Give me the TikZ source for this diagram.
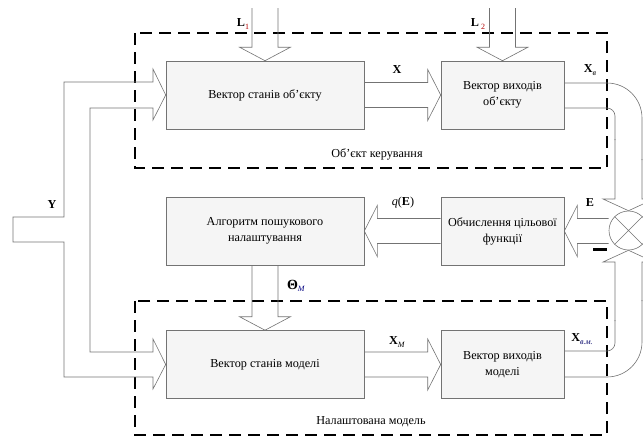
\documentclass[tikz,border=0pt]{standalone}
\usepackage{fontspec}
\setmainfont{Liberation Serif}
\usetikzlibrary{calc}
\tikzset{
  blk/.style={draw=black!55, fill=black!4, line width=0.6pt, align=center,
    font=\fontsize{12.2}{16}\selectfont, inner sep=0pt},
  wide/.style={minimum width=198pt, minimum height=68pt},
  narrow/.style={minimum width=123pt, minimum height=68pt},
  pipe/.style={draw=black!55, line width=0.6pt, line join=miter},
  grp/.style={draw=black, line width=1.5pt, dash pattern=on 12pt off 7pt},
  lbl/.style={font=\fontsize{12.2}{14}\selectfont, inner sep=0pt},
}
\newcommand\lsub[2][black]{\raisebox{-2.5pt}{\fontsize{8}{9}\selectfont\color{#1}#2}}
% horizontal fat arrow: start, tip, direction (1 = right, -1 = left)
\newcommand\hfat[3]{\draw[pipe] let \p1=#1, \p2=#2 in
  (\x1,\y2+12.5pt) -- (\x2-#3*13pt,\y2+12.5pt) -- (\x2-#3*13pt,\y2+25.5pt) -- (\x2,\y2)
  -- (\x2-#3*13pt,\y2-25.5pt) -- (\x2-#3*13pt,\y2-12.5pt) -- (\x1,\y2-12.5pt);}
% downward fat arrow: start, tip
\newcommand\vfat[2]{\draw[pipe] let \p1=#1, \p2=#2 in
  (\x2+13pt,\y1) -- (\x2+13pt,\y2+13.5pt) -- (\x2+25.5pt,\y2+13.5pt) -- (\x2,\y2)
  -- (\x2-25.5pt,\y2+13.5pt) -- (\x2-13pt,\y2+13.5pt) -- (\x2-13pt,\y1);}
\begin{document}
\begin{tikzpicture}[x=1pt,y=-1pt]
\useasboundingbox (0,0) rectangle (643,437);
\clip (0,0) rectangle (643,437);

% group frames
\draw[grp] (135,33) rectangle (607,168);
\draw[grp] (135,301) rectangle (607,435);
\node[lbl] (objlbl) at (377,154) {Об’єкт керування};
\node[lbl] (modlbl) at (371,422) {Налаштована модель};

% blocks
\node[blk, wide]   (b1)  at (265,95)    {Вектор станів об'єкту};
\node[blk, narrow] (b2)  at (502.5,95)  {Вектор виходів\\об'єкту};
\node[blk, wide]   (alg) at (265,231)   {Алгоритм пошукового\\налаштування};
\node[blk, narrow] (fun) at (502.5,231) {Обчислення цільової\\функції};
\node[blk, wide]   (b3)  at (265,364.5) {Вектор станів моделі};
\node[blk, narrow] (b4)  at (502.5,364.5) {Вектор виходів\\моделі};
\node[draw=black!55, line width=0.6pt, circle, minimum size=39pt, inner sep=0pt] (sum) at (628.5,230.5) {};
\draw[pipe] (sum.north west) -- (sum.south east) (sum.north east) -- (sum.south west);

% disturbance inputs
\coordinate (L1top) at (265,8);
\coordinate (L2top) at (502.5,8);
\vfat{(L1top)}{(b1.north)}
\vfat{(L2top)}{(b2.north)}
\vfat{(alg.south)}{(b3.north)}

% horizontal fat arrows
\hfat{(b1.east)}{(b2.west)}{1}
\hfat{(b3.east)}{(b4.west)}{1}
\hfat{(fun.west)}{(alg.east)}{-1}
\hfat{(sum.west)}{(fun.east)}{-1}

% input Y pipe
\draw[pipe] (153,69) -- (153,82) -- (64,82) -- (64,217) -- (13,217) -- (13,242) -- (64,242)
  -- (64,377) -- (153,377) -- (153,389) -- (b3.west) -- (153,339) -- (153,352) -- (90,352)
  -- (90,108) -- (153,108) -- (153,120) -- (b1.west) -- cycle;

% object output pipe to comparator
\draw[pipe, rounded corners=35pt] (564,83) -- (642,83) -- (642,160);
\draw[pipe] (642,159) -- (642,199) -- (654,199) -- (sum.north);
\draw[pipe, rounded corners=8pt] (564,108) -- (615,108) -- (615,140);
\draw[pipe] (615,139) -- (615,199) -- (603,199) -- (sum.north);
% model output pipe to comparator
\draw[pipe, rounded corners=8pt] (564,351) -- (615,351) -- (615,320);
\draw[pipe] (615,321) -- (615,262) -- (603,262) -- (sum.south);
\draw[pipe, rounded corners=35pt] (564,377) -- (642,377) -- (642,300);
\draw[pipe] (642,301) -- (642,262) -- (654,262) -- (sum.south);

% minus sign
\coordinate (mA) at (593,249);
\coordinate (mB) at (607,249);
\draw[line width=3pt] (mA) -- (mB);

% labels
\node[lbl] (Ylbl) at (52,205) {\textbf{Y}};
\node[lbl] (L1lbl) at (243,24) {\textbf{L}\lsub[red!70!black]{1}};
\node[lbl] (L2lbl) at (478,24) {\textbf{L}\,\lsub[red!70!black]{2}};
\node[lbl] (Xlbl) at (397,70) {\textbf{X}};
\node[lbl] (XBlbl) at (590,70) {\textbf{X}\lsub{\textit{в}}};
\node[lbl] (qlbl) at (403,203) {\textit{q}(\textbf{E})};
\node[lbl] (Elbl) at (590,203) {\textbf{E}};
\node[lbl] (Thlbl) at (296,286) {\fontsize{14}{16}\selectfont\textbf{Θ}\lsub[blue!50!black]{\textit{M}}};
\node[lbl] (XMlbl) at (397,342) {\textbf{X}\lsub{\textit{M}}};
\node[lbl] (XBMlbl) at (582,339) {\textbf{X}\lsub[blue!40!black]{\textit{в.м.}}};
\end{tikzpicture}
\end{document}
